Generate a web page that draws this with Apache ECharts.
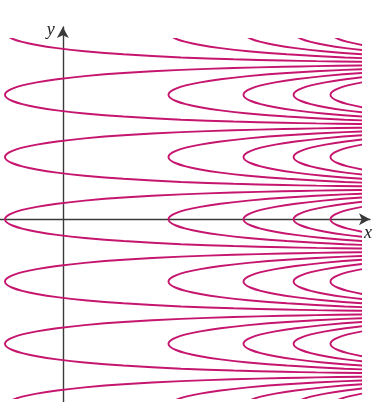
<!DOCTYPE html>
<html>
<head>
<meta charset="utf-8">
<script src="https://cdn.jsdelivr.net/npm/echarts@6/dist/echarts.min.js"></script>
<style>
html,body{margin:0;padding:0;background:#fff;}
#chart{width:375px;height:402px;}
</style>
</head>
<body>
<div id="chart"></div>
<script>
// Level-curve family.
// x positions of the curve vertices (x units; y-axis at 0)
var vertexX = [-0.387, 0.703, 1.203, 1.537, 1.783];
// y positions of the vertex rows (in units of pi)
var vertexRows = [3, 2, 1, 0, -1, -2, -3];
// shape of one curve: offset from its vertex (dy in pi units, dx in x units)
var profileDy = [0, 0.05, 0.1, 0.15, 0.2, 0.25, 0.3, 0.35, 0.4, 0.43, 0.45, 0.46, 0.47, 0.48, 0.49];
var profileDx = [0, 0.012, 0.05, 0.115, 0.212, 0.347, 0.531, 0.79, 1.174, 1.523, 1.855, 2.077, 2.363, 2.768, 3.46];
var axisNames = ['x', 'y'];

var curveColor = '#c5156e';
var axisColor = '#3a3a3a';

function buildCurve(vx, row) {
  var pts = [];
  for (var i = profileDy.length - 1; i >= 0; i--) {
    pts.push([vx + profileDx[i], row + profileDy[i]]);
  }
  for (var j = 1; j < profileDy.length; j++) {
    pts.push([vx + profileDx[j], row - profileDy[j]]);
  }
  return pts;
}

var series = [];
vertexX.forEach(function (vx) {
  vertexRows.forEach(function (row) {
    series.push({
      type: 'line',
      xAxisIndex: 0,
      yAxisIndex: 0,
      data: buildCurve(vx, row),
      showSymbol: false,
      smooth: 0.3,
      clip: true,
      silent: true,
      lineStyle: { color: curveColor, width: 1.9 },
      z: 2
    });
  });
});

var chart = echarts.init(document.getElementById('chart'), null, { renderer: 'canvas' });
chart.setOption({
  animation: false,
  backgroundColor: '#ffffff',
  grid: [
    { left: 0, right: 15, top: 39, bottom: 4, containLabel: false },
    { left: 0, right: 4, top: 27, bottom: 0, containLabel: false }
  ],
  xAxis: [
    { type: 'value', gridIndex: 0, min: -0.42, max: 1.98, show: false },
    {
      type: 'value', gridIndex: 1, min: -0.42, max: 2.053,
      axisLine: { show: true, onZero: true, symbol: ['none', 'arrow'], symbolSize: [9, 11], lineStyle: { color: axisColor, width: 1.4 } },
      axisTick: { show: false }, axisLabel: { show: false }, splitLine: { show: false },
      name: axisNames[0], nameLocation: 'end', nameGap: -2,
      nameTextStyle: { fontFamily: 'Liberation Serif', fontStyle: 'italic', fontSize: 18, color: '#222', align: 'center', verticalAlign: 'top', lineHeight: 28 }
    }
  ],
  yAxis: [
    { type: 'value', gridIndex: 0, min: -2.871, max: 2.896, show: false },
    {
      type: 'value', gridIndex: 1, min: -2.935, max: 3.089,
      axisLine: { show: true, onZero: true, symbol: ['none', 'arrow'], symbolSize: [9, 11], lineStyle: { color: axisColor, width: 1.4 } },
      axisTick: { show: false }, axisLabel: { show: false }, splitLine: { show: false },
      name: axisNames[1], nameLocation: 'end', nameGap: -3,
      nameTextStyle: { fontFamily: 'Liberation Serif', fontStyle: 'italic', fontSize: 18, color: '#222', align: 'right', verticalAlign: 'middle', padding: [0, 8, 0, 0] }
    }
  ],
  series: series
});
</script>
</body>
</html>
